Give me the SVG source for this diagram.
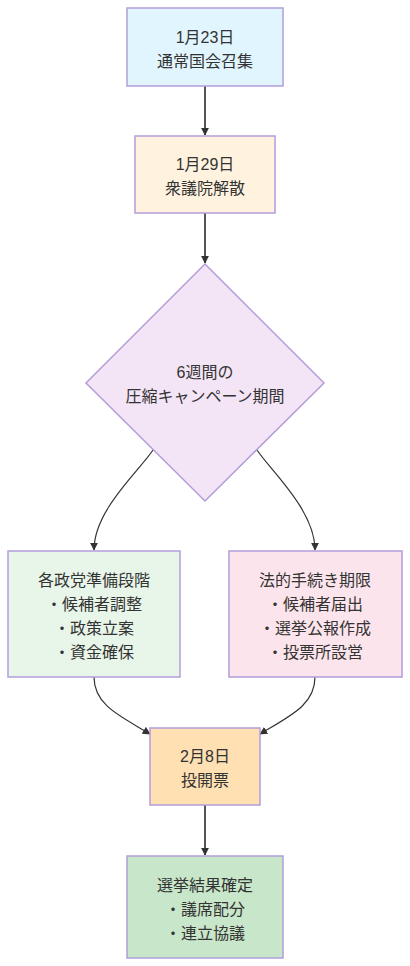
<svg xmlns="http://www.w3.org/2000/svg" width="410" height="966" viewBox="0 0 410 966">
<defs>
<marker id="arr" viewBox="0 0 10 10" refX="9" refY="5" markerWidth="8" markerHeight="8" markerUnits="userSpaceOnUse" orient="auto">
<path d="M0,0 L10,5 L0,10 z" fill="#333"/>
</marker>
<style>
.n{stroke:#b39ddb;stroke-width:1.5}
.t{font-family:"Liberation Sans","Noto Sans CJK JP",sans-serif;font-size:16px;fill:#333;text-anchor:middle}
.e{fill:none;stroke:#333;stroke-width:1.2;marker-end:url(#arr)}
.s{fill:none;stroke:#555;stroke-width:2;marker-end:url(#arr)}
</style>
</defs>
<rect width="410" height="966" fill="#fff"/>
<g id="connectors">
<path class="s" d="M205,86 L205,135"/>
<path class="s" d="M205,213 L205,263"/>
<path class="e" d="M153,450 C140,470 94,510 94,550"/>
<path class="e" d="M257,450 C270,470 315,510 315,550"/>
<path class="e" d="M94,677 C94,705 120,716 150,734"/>
<path class="e" d="M315,677 C315,705 290,716 260,734"/>
<path class="s" d="M205,805 L205,855"/>
</g>
<g id="n1">
<rect class="n" x="127" y="8" width="156" height="78" fill="#e1f5fe"/>
<text class="t" x="205" y="43">1月23日</text>
<text class="t" x="205" y="67">通常国会召集</text>
</g>
<g id="n2">
<rect class="n" x="135" y="136" width="140" height="77" fill="#fff3e0"/>
<text class="t" x="205" y="170">1月29日</text>
<text class="t" x="205" y="194">衆議院解散</text>
</g>
<g id="n3">
<polygon class="n" points="205,264 324,383 205,501 86,383" fill="#f3e5f5"/>
<text class="t" x="205" y="378">6週間の</text>
<text class="t" x="205" y="402">圧縮キャンペーン期間</text>
</g>
<g id="n4">
<rect class="n" x="8" y="551" width="172" height="126" fill="#e8f5e9"/>
<text class="t" x="94" y="586">各政党準備段階</text>
<text class="t" x="94" y="610">・候補者調整</text>
<text class="t" x="94" y="634">・政策立案</text>
<text class="t" x="94" y="658">・資金確保</text>
</g>
<g id="n5">
<rect class="n" x="229" y="551" width="173" height="126" fill="#fce4ec"/>
<text class="t" x="315" y="586">法的手続き期限</text>
<text class="t" x="315" y="610">・候補者届出</text>
<text class="t" x="315" y="634">・選挙公報作成</text>
<text class="t" x="315" y="658">・投票所設営</text>
</g>
<g id="n6">
<rect class="n" x="150" y="728" width="110" height="77" fill="#ffe0b2"/>
<text class="t" x="205" y="762">2月8日</text>
<text class="t" x="205" y="786">投開票</text>
</g>
<g id="n7">
<rect class="n" x="127" y="856" width="156" height="102" fill="#c8e6c9"/>
<text class="t" x="205" y="891">選挙結果確定</text>
<text class="t" x="205" y="915">・議席配分</text>
<text class="t" x="205" y="939">・連立協議</text>
</g>
</svg>
